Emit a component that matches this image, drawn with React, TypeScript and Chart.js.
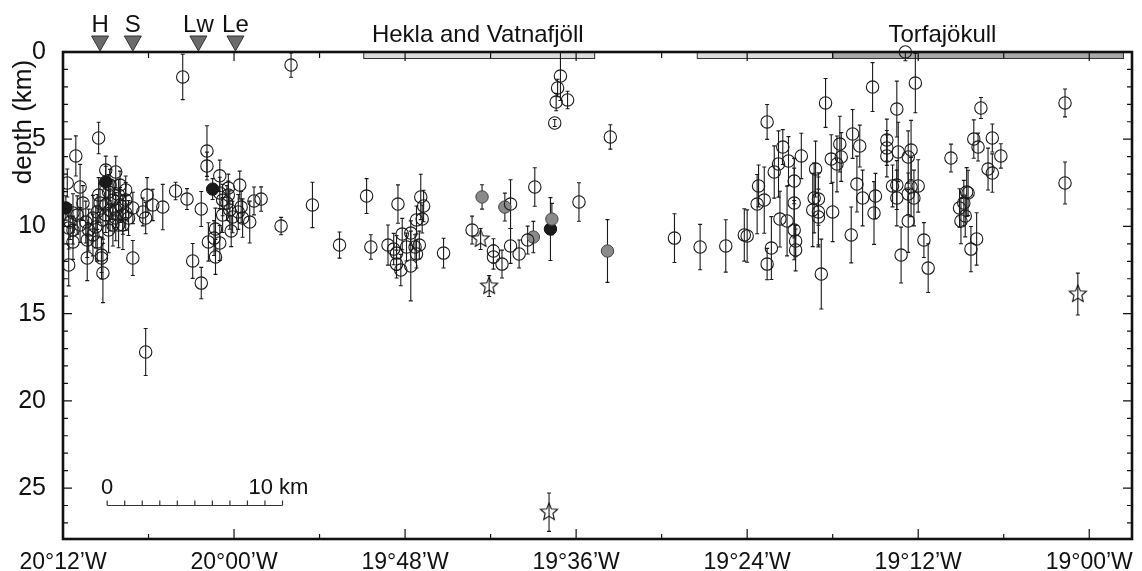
import React, { useEffect, useRef } from "react";
import { Chart, registerables } from "chart.js";

Chart.register(...registerables);

// Longitude is given in arc-minutes west of Greenwich (1212 = 20°12'W), depth in km.
const lonTicks = [1212, 1200, 1188, 1176, 1164, 1152, 1140];
const depthTicks = [0, 5, 10, 15, 20, 25];

const lonOpen = [
  1203.6, 1196.0, 1209.5, 1211.1, 1201.9, 1201.9, 1209.0, 1208.3, 1201.0, 1199.6,
  1204.1, 1210.8, 1211.7, 1210.6, 1211.3, 1211.5, 1211.6, 1211.3, 1211.3, 1211.6,
  1210.3, 1209.3, 1209.3, 1209.2, 1207.1, 1210.3, 1210.2, 1209.9, 1209.7, 1209.6,
  1209.4, 1209.5, 1208.1, 1207.6, 1207.1, 1206.2, 1206.4, 1206.1, 1205.7, 1205.0,
  1203.3, 1202.3, 1202.9, 1202.3, 1206.2, 1200.2, 1199.5, 1198.9, 1198.6, 1198.1,
  1196.7, 1194.5, 1201.3, 1201.8, 1201.4, 1201.0, 1201.3, 1200.4, 1199.4, 1200.8,
  1200.5, 1200.3, 1200.8, 1200.1, 1200.4, 1199.7, 1201.0, 1208.8, 1208.5, 1208.7,
  1208.3, 1208.0, 1207.8, 1208.1, 1207.6, 1208.5, 1209.0, 1209.0, 1207.8, 1207.6,
  1208.7, 1208.3, 1208.0, 1209.2, 1208.8, 1207.4, 1209.9, 1209.6, 1210.8, 1211.0,
  1210.4,
  1190.7, 1192.6, 1190.4, 1188.5, 1189.2, 1188.8, 1188.6, 1188.6, 1188.3, 1188.2,
  1187.9, 1187.6, 1187.6, 1187.3, 1187.2, 1187.0, 1186.9, 1186.8, 1186.7, 1187.2,
  1185.3, 1183.3, 1180.6, 1181.8, 1181.8, 1181.2, 1180.6, 1180.0, 1179.4, 1178.9,
  1175.8, 1173.6, 1177.1, 1177.3, 1177.4, 1176.6, 1177.5,
  1169.1, 1167.3, 1165.5, 1164.2, 1164.0, 1163.3, 1163.2, 1162.8, 1162.6, 1162.1,
  1161.8, 1161.5, 1161.1, 1160.7, 1160.7, 1161.7, 1161.2, 1160.7, 1160.6, 1160.6,
  1162.3, 1162.6, 1160.2, 1159.2, 1159.3, 1159.0, 1159.4, 1159.0, 1159.0, 1158.8,
  1158.5, 1158.1, 1158.0, 1157.7, 1157.5, 1157.4, 1156.7, 1156.6, 1156.3, 1156.1,
  1155.9, 1155.2, 1155.1, 1155.0, 1154.2, 1154.2, 1154.2, 1153.8, 1153.5, 1153.5,
  1153.5, 1153.4, 1153.2, 1152.7, 1152.7, 1152.7, 1152.5, 1152.5, 1152.3, 1152.2,
  1152.0, 1151.6, 1151.3, 1149.7, 1149.1, 1149.0, 1148.8, 1148.7, 1148.6, 1148.5,
  1148.3, 1147.9, 1148.1, 1147.8, 1147.6, 1147.1, 1146.8, 1146.8, 1146.2, 1141.7,
  1141.7, 1152.9,
];
const depthOpen = [
  1.43, 0.75, 4.93, 5.96, 5.68, 6.54, 6.77, 6.88, 7.10, 7.63,
  7.97, 7.74, 7.51, 8.66, 9.23, 9.75, 10.09, 10.21, 10.89, 12.21,
  11.81, 11.64, 11.81, 12.67, 11.81, 10.78, 10.21, 9.52, 10.03, 9.17,
  8.66, 8.20, 9.92, 9.23, 8.94, 9.52, 9.17, 8.20, 8.77, 8.89,
  8.43, 9.00, 11.98, 13.25, 17.20, 10.26, 8.89, 9.75, 8.54, 8.43,
  9.98, 8.77, 10.15, 10.89, 10.67, 10.95, 11.75, 7.80, 9.52, 8.49,
  8.66, 9.06, 9.35, 9.46, 8.20, 9.17, 8.08, 8.03, 8.49, 9.06,
  9.52, 8.77, 9.35, 8.20, 8.49, 9.92, 9.35, 8.77, 9.92, 7.91,
  7.63, 9.06, 7.63, 9.63, 10.21, 9.52, 10.49, 10.89, 9.92, 9.35,
  9.75,
  8.26, 11.07, 11.18, 8.72, 11.07, 11.30, 11.53, 12.16, 12.50, 10.44,
  11.18, 10.38, 12.27, 11.18, 9.63, 11.07, 8.31, 9.58, 8.83, 11.58,
  11.53, 10.21, 8.72, 11.41, 11.75, 12.16, 11.12, 11.58, 10.78, 7.74,
  8.60, 4.87, 1.38, 2.06, 2.87, 2.75, 4.07,
  10.67, 11.18, 11.12, 10.49, 10.55, 8.72, 7.68, 8.49, 4.01, 6.88,
  6.42, 5.45, 6.25, 7.40, 8.66, 9.58, 9.69, 10.21, 10.84, 11.35,
  11.24, 12.16, 5.96, 6.71, 8.37, 8.43, 9.06, 9.17, 9.46, 12.73,
  2.92, 6.14, 9.17, 6.42, 5.28, 6.02, 10.49, 4.70, 7.57, 5.39,
  8.37, 2.01, 9.23, 8.26, 5.05, 5.50, 5.96, 7.68, 7.63, 8.37,
  3.27, 5.73, 11.64, 9.69, 8.14, 6.02, 7.74, 5.62, 8.37, 1.78,
  7.68, 10.78, 12.39, 6.08, 8.94, 9.69, 8.66, 9.40, 8.03, 8.08,
  11.30, 10.72, 4.99, 5.45, 3.21, 6.71, 4.93, 6.94, 5.96, 2.92,
  7.51, 0.0,
];
const errOpen = [
  1.3, 0.7, 0.9, 1.15, 1.45, 0.8, 0.8, 0.9, 0.9, 0.8,
  0.5, 1.3, 0.8, 1.0, 1.1, 1.0, 1.2, 0.8, 1.0, 1.2,
  1.3, 1.0, 1.2, 1.7, 1.0, 1.0, 1.2, 1.3, 1.2, 1.0,
  1.1, 1.0, 1.3, 1.0, 0.9, 0.9, 0.8, 1.0, 0.9, 1.3,
  0.6, 1.0, 1.0, 0.9, 1.35, 0.9, 0.9, 1.2, 0.8, 0.7,
  0.5, 1.3, 1.2, 1.1, 1.0, 1.0, 1.0, 0.8, 1.1, 0.9,
  1.0, 1.1, 1.0, 0.9, 0.8, 1.0, 0.9, 1.0, 1.1, 1.2,
  1.3, 1.0, 1.1, 0.9, 1.0, 1.2, 1.0, 0.9, 1.4, 0.8,
  0.9, 1.0, 0.8, 1.1, 1.3, 1.0, 1.2, 1.1, 1.0, 1.1,
  1.2,
  1.0, 0.75, 0.7, 1.1, 1.15, 0.9, 1.0, 0.8, 0.9, 0.9,
  0.8, 0.7, 2.0, 0.7, 0.8, 0.8, 1.3, 0.8, 0.9, 0.8,
  0.85, 0.8, 1.4, 0.7, 0.7, 0.8, 1.0, 0.8, 0.8, 1.1,
  1.1, 0.7, 1.4, 0.5, 0.5, 0.5, 0.2,
  1.4, 1.3, 1.5, 1.5, 1.5, 1.7, 1.2, 1.9, 1.0, 1.5,
  1.9, 1.0, 1.4, 1.3, 2.0, 1.6, 2.0, 1.7, 0.9, 1.2,
  1.8, 0.9, 1.3, 1.6, 2.0, 1.5, 2.1, 2.0, 1.6, 2.0,
  1.4, 1.4, 1.7, 1.6, 1.6, 1.4, 1.6, 1.4, 1.6, 1.2,
  1.6, 1.4, 1.8, 1.3, 1.2, 1.0, 1.2, 1.2, 1.4, 1.6,
  1.6, 1.7, 1.6, 1.8, 1.2, 1.5, 1.7, 1.7, 1.6, 1.7,
  1.5, 1.0, 1.4, 0.8, 1.1, 1.3, 1.3, 1.2, 1.4, 1.3,
  1.3, 1.5, 1.1, 0.8, 0.6, 1.2, 0.8, 1.1, 0.7, 0.8,
  1.2, 0.5,
];

const lonGray = [1182.6, 1181.0, 1179.0, 1177.7, 1173.8];
const depthGray = [8.31, 8.89, 10.61, 9.58, 11.41];
const errGray = [0.7, 0.8, 0.9, 0.9, 1.8];

const lonBlack = [1177.8, 1209.0, 1201.5, 1211.8];
const depthBlack = [10.15, 7.45, 7.86, 8.94];
const errBlack = [1.8, 0.9, 0.6, 0.7];

const lonStar = [1182.7, 1182.1, 1177.9, 1140.8];
const depthStar = [10.72, 13.42, 26.38, 13.88];
const errStar = [0.6, 0.6, 1.1, 1.2];

const siteNames = ["H", "S", "Lw", "Le"];
const siteLon = [1209.4, 1207.1, 1202.5, 1199.9];

const regionNames = ["Hekla and Vatnafjöll", "Torfajökull"];
const regionLabelLon = [1182.9, 1150.3];
const regionBarStart = [1190.9, 1167.5, 1158.0];
const regionBarEnd = [1174.7, 1158.0, 1137.6];
const regionBarShade = ["#dcdcdc", "#dcdcdc", "#a8a8a8"];

const scaleBarStartLon = 1208.9;
const scaleBarLonPer10km = 12.3;
const scaleBarDepth = 26.0;

const FONT = "'Liberation Sans', Arial, Helvetica, sans-serif";

function fmtLon(v: number): string {
  const d = Math.floor(v / 60);
  const m = Math.round(v - d * 60);
  return `${d}°${String(m).padStart(2, "0")}’W`;
}

function makeStar(r: number): HTMLCanvasElement {
  const c = document.createElement("canvas");
  const s = Math.ceil(2 * r + 4);
  c.width = s;
  c.height = s;
  const g = c.getContext("2d")!;
  const cx = s / 2, cy = s / 2;
  g.beginPath();
  for (let i = 0; i < 10; i++) {
    const rr = i % 2 === 0 ? r : r * 0.45;
    const a = -Math.PI / 2 + (i * Math.PI) / 5;
    const px = cx + rr * Math.cos(a), py = cy + rr * Math.sin(a);
    if (i === 0) g.moveTo(px, py); else g.lineTo(px, py);
  }
  g.closePath();
  g.strokeStyle = "#111";
  g.lineWidth = 1.1;
  g.stroke();
  return c;
}

const groups = [
  { lon: lonOpen, depth: depthOpen, err: errOpen },
  { lon: lonGray, depth: depthGray, err: errGray },
  { lon: lonBlack, depth: depthBlack, err: errBlack },
  { lon: lonStar, depth: depthStar, err: errStar },
];

const annotations = {
  id: "annotations",
  beforeDatasetsDraw(chart: any) {
    const { ctx, chartArea: a, scales } = chart;
    const x = scales.x, y = scales.y;
    ctx.save();
    for (let i = 0; i < regionBarStart.length; i++) {
      const x1 = x.getPixelForValue(regionBarStart[i]);
      const x2 = x.getPixelForValue(regionBarEnd[i]);
      ctx.fillStyle = regionBarShade[i];
      ctx.fillRect(x1, a.top, x2 - x1, 6.5);
      ctx.strokeStyle = "#333";
      ctx.lineWidth = 1;
      ctx.strokeRect(x1, a.top, x2 - x1, 6.5);
    }
    ctx.strokeStyle = "#1a1a1a";
    ctx.lineWidth = 1.1;
    groups.forEach((g) => {
      g.lon.forEach((lo, i) => {
        const px = x.getPixelForValue(lo);
        const y1 = y.getPixelForValue(Math.max(0, g.depth[i] - g.err[i]));
        const y2 = y.getPixelForValue(g.depth[i] + g.err[i]);
        ctx.beginPath();
        ctx.moveTo(px, y1);
        ctx.lineTo(px, y2);
        ctx.moveTo(px - 2, y1);
        ctx.lineTo(px + 2, y1);
        ctx.moveTo(px - 2, y2);
        ctx.lineTo(px + 2, y2);
        ctx.stroke();
      });
    });
    ctx.restore();
  },
  afterDatasetsDraw(chart: any) {
    const { ctx, chartArea: a, scales } = chart;
    const x = scales.x, y = scales.y;
    ctx.save();
    ctx.strokeStyle = "#111";
    ctx.lineWidth = 1.2;
    for (let d = 1; d <= 27; d++) {
      const py = y.getPixelForValue(d);
      const len = d % 5 === 0 ? 9 : 5;
      ctx.beginPath();
      ctx.moveTo(a.left, py);
      ctx.lineTo(a.left + len, py);
      ctx.moveTo(a.right, py);
      ctx.lineTo(a.right - len, py);
      ctx.stroke();
    }
    for (let m = 1212; m >= 1140; m -= 6) {
      const px = x.getPixelForValue(m);
      const major = m % 12 === 0;
      ctx.beginPath();
      ctx.moveTo(px, a.bottom);
      ctx.lineTo(px, a.bottom - (major ? 10 : 5));
      ctx.moveTo(px, a.top);
      ctx.lineTo(px, a.top + (major ? 9 : 6));
      ctx.stroke();
    }
    ctx.lineWidth = 2.6;
    ctx.strokeRect(a.left, a.top, a.right - a.left, a.bottom - a.top);

    ctx.font = `24px ${FONT}`;
    ctx.textAlign = "center";
    ctx.textBaseline = "alphabetic";
    siteLon.forEach((lo, i) => {
      const px = x.getPixelForValue(lo);
      ctx.beginPath();
      ctx.moveTo(px, a.top - 1);
      ctx.lineTo(px - 8.5, a.top - 16);
      ctx.lineTo(px + 8.5, a.top - 16);
      ctx.closePath();
      ctx.fillStyle = "#6b6b6b";
      ctx.fill();
      ctx.lineWidth = 1;
      ctx.strokeStyle = "#333";
      ctx.stroke();
      ctx.fillStyle = "#111";
      ctx.fillText(siteNames[i], px, a.top - 20);
    });
    ctx.font = `24px ${FONT}`;
    regionNames.forEach((n, i) => {
      ctx.fillText(n, x.getPixelForValue(regionLabelLon[i]), a.top - 10);
    });
    ctx.save();
    ctx.translate(24, 122);
    ctx.rotate(-Math.PI / 2);
    ctx.font = `26px ${FONT}`;
    ctx.textBaseline = "middle";
    ctx.fillText("depth (km)", 0, 0);
    ctx.restore();
    const sx1 = x.getPixelForValue(scaleBarStartLon);
    const sx2 = x.getPixelForValue(scaleBarStartLon - scaleBarLonPer10km);
    const sy = y.getPixelForValue(scaleBarDepth);
    ctx.lineWidth = 1.2;
    ctx.beginPath();
    ctx.moveTo(sx1, sy);
    ctx.lineTo(sx2, sy);
    for (let k = 0; k <= 10; k++) {
      const px = sx1 + ((sx2 - sx1) * k) / 10;
      ctx.moveTo(px, sy);
      ctx.lineTo(px, sy - 5);
    }
    ctx.stroke();
    ctx.font = `22px ${FONT}`;
    ctx.textBaseline = "alphabetic";
    ctx.textAlign = "center";
    ctx.fillText("0", sx1, sy - 12);
    ctx.textAlign = "left";
    ctx.fillText("10 km", sx2 - 34, sy - 12);
    ctx.restore();
  },
};

export default function App() {
  const ref = useRef<HTMLCanvasElement | null>(null);
  useEffect(() => {
    if (!ref.current) return;
    const star = makeStar(9);
    const mk = (lon: number[], depth: number[]) => lon.map((v, i) => ({ x: v, y: depth[i] }));
    const clip = { left: 0, top: 20, right: 0, bottom: 0 };
    const chart = new Chart(ref.current, {
      type: "scatter",
      data: {
        datasets: [
          {
            label: "open",
            data: mk(lonOpen, depthOpen),
            pointStyle: "circle",
            pointRadius: 6.2,
            borderWidth: 1.1,
            borderColor: "#1a1a1a",
            backgroundColor: "rgba(0,0,0,0)",
            clip,
          },
          {
            label: "gray",
            data: mk(lonGray, depthGray),
            pointStyle: "circle",
            pointRadius: 6.2,
            borderWidth: 1,
            borderColor: "#444",
            backgroundColor: "#8a8a8a",
            clip,
          },
          {
            label: "black",
            data: mk(lonBlack, depthBlack),
            pointStyle: "circle",
            pointRadius: 6.2,
            borderWidth: 1,
            borderColor: "#111",
            backgroundColor: "#1a1a1a",
            clip,
          },
          {
            label: "star",
            data: mk(lonStar, depthStar),
            pointStyle: star as any,
            pointRadius: 9,
            clip,
          },
        ],
      },
      options: {
        responsive: false,
        animation: false,
        events: [],
        layout: { padding: { top: 52, right: 9, left: 0, bottom: 0 } },
        plugins: { legend: { display: false }, tooltip: { enabled: false } },
        scales: {
          x: {
            type: "linear",
            reverse: true,
            min: 1137.0,
            max: 1212,
            grid: { display: false },
            border: { display: false },
            afterBuildTicks: (s: any) => {
              s.ticks = lonTicks.map((v) => ({ value: v }));
            },
            afterFit: (s: any) => {
              s.height = 32;
            },
            ticks: {
              autoSkip: false,
              maxRotation: 0,
              padding: 2,
              color: "#111",
              font: { family: FONT, size: 23 },
              callback: (v: any) => fmtLon(Number(v)),
            },
          },
          y: {
            type: "linear",
            reverse: true,
            min: 0,
            max: 27.92,
            grid: { display: false },
            border: { display: false },
            afterBuildTicks: (s: any) => {
              s.ticks = depthTicks.map((v) => ({ value: v }));
            },
            afterFit: (s: any) => {
              s.width = 63;
            },
            ticks: {
              padding: 9,
              color: "#111",
              font: { family: FONT, size: 25 },
              callback: (v: any) => String(v),
            },
          },
        },
      },
      plugins: [annotations],
    });
    return () => chart.destroy();
  }, []);
  return (
    <div style={{ position: "fixed", left: 0, top: 0, width: 1142, height: 571, background: "#fff" }}>
      <canvas ref={ref} width={1142} height={571} />
    </div>
  );
}
